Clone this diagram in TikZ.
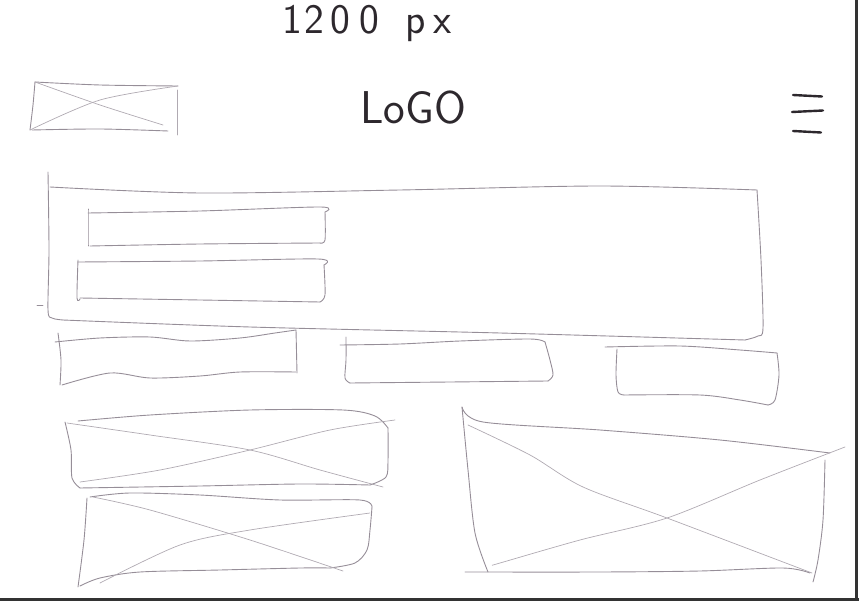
\documentclass[tikz,border=0pt]{standalone}
\usepackage{fontspec}
\definecolor{pencil}{RGB}{150,142,152}
\definecolor{inkc}{RGB}{45,40,45}
\begin{document}
\begin{tikzpicture}[x=1pt,y=-1pt,
  pen/.style={draw=pencil, line width=0.9pt, line cap=round, line join=round},
  faint/.style={draw=pencil!75, line width=0.7pt, line cap=round},
  ink/.style={draw=inkc, line width=2.4pt, line cap=round},
  hand/.style={text=inkc, inner sep=0pt}]
\useasboundingbox (0,0) rectangle (859,601);
% scan edges
\draw[draw=black!80, line width=2.5pt] (0,599.5) -- (859,599.5);
\draw[draw=black!80, line width=2.5pt] (856.5,0) -- (856.5,601);
% title
\node[hand, anchor=base west, font=\fontsize{42}{42}\sffamily] (title) at (282,34)
  {1\kern3pt 2\kern6pt 0\kern9pt 0\kern26pt p\kern8pt x};
% logo placeholder
\draw[pen] plot[smooth] coordinates {(35,82) (100,85) (178,86)};
\draw[pen] plot[smooth] coordinates {(35,82) (33,105) (30,130)};
\draw[pen] plot[smooth] coordinates {(32,130) (100,129) (168,131)};
\draw[faint] plot[smooth] coordinates {(35,82) (100,105) (163,125)};
\draw[faint] plot[smooth] coordinates {(30,130) (100,100) (178,86)};
\draw[faint] (177,90) -- (177,135);
% logo text
\node[hand, anchor=base west, font=\fontsize{46}{46}\sffamily] (logo) at (360,124) {LoGO};
% hamburger
\draw[ink] (793,95) -- (822,96.5);
\draw[ink] (792,112) -- (823,110.5);
\draw[ink] (793,131) -- (821,132.5);
% hero
\draw[pen] plot[smooth] coordinates {(48,172) (49,250) (48,310) (52,318) (63,320)};
\draw[pen] plot[smooth] coordinates {(50,187) (200,193) (400,190) (600,186) (757,190)};
\draw[pen] plot[smooth] coordinates {(757,190) (761,260) (763,328) (758,336) (745,340)};
\draw[pen] plot[smooth] coordinates {(63,320) (250,327) (500,333) (745,340)};
\draw[pen] (37,305) -- (43,305);
% inner box 1
\draw[pen] plot[smooth] coordinates {(88,213) (200,211) (320,207) (325,212)};
\draw[pen] plot[smooth] coordinates {(325,212) (325,240) (320,243)};
\draw[pen] plot[smooth] coordinates {(320,243) (200,244) (90,246)};
\draw[pen] plot[smooth] coordinates {(88,209) (88,246)};
% inner box 2
\draw[pen] plot[smooth] coordinates {(78,262) (200,261) (318,259) (324,265)};
\draw[pen] plot[smooth] coordinates {(324,265) (325,295) (320,302)};
\draw[pen] plot[smooth] coordinates {(320,302) (200,300) (80,298)};
\draw[pen] plot[smooth] coordinates {(78,260) (77,298) (80,299)};
% box A
\draw[pen] plot[smooth] coordinates {(58,333) (61,360) (60,385)};
\draw[pen] plot[smooth] coordinates {(55,342) (100,338) (150,337) (190,341) (240,338) (275,333) (296,330)};
\draw[pen] plot[smooth] coordinates {(296,330) (297,373)};
\draw[pen] plot[smooth] coordinates {(62,385) (110,373) (150,378) (200,376) (240,372) (296,372)};
% box B
\draw[pen] plot[smooth] coordinates {(346,337) (346,360) (345,378) (350,383)};
\draw[pen] plot[smooth] coordinates {(340,345) (400,344) (460,341) (530,339) (545,342)};
\draw[pen] plot[smooth] coordinates {(545,342) (550,360) (553,375) (548,381)};
\draw[pen] plot[smooth] coordinates {(350,383) (450,382) (548,381)};
% box C
\draw[pen] plot[smooth] coordinates {(605,347) (680,346) (740,350) (777,353)};
\draw[pen] plot[smooth] coordinates {(777,353) (779,375) (775,400) (768,405)};
\draw[pen] plot[smooth] coordinates {(624,395) (700,395) (740,400) (768,405)};
\draw[pen] plot[smooth] coordinates {(617,349) (616,375) (618,392) (624,395)};
% box D
\draw[pen] plot[smooth] coordinates {(65,422) (71,450) (72,478) (80,488)};
\draw[pen] plot[smooth] coordinates {(78,421) (150,415) (250,410) (343,410) (375,416) (388,428)};
\draw[pen] plot[smooth] coordinates {(388,428) (388,460) (386,477) (370,485)};
\draw[pen] plot[smooth] coordinates {(80,488) (200,486) (300,484) (370,485)};
\draw[faint] plot[smooth] coordinates {(67,423) (150,435) (250,450) (320,470) (383,487)};
\draw[faint] plot[smooth] coordinates {(80,482) (160,470) (250,450) (330,430) (395,420)};
% box E
\draw[pen] plot[smooth] coordinates {(90,497) (130,493) (200,495) (280,500) (360,500) (372,507)};
\draw[pen] plot[smooth] coordinates {(372,507) (370,530) (367,550) (355,563) (330,568)};
\draw[pen] plot[smooth] coordinates {(80,586) (100,578) (140,572) (220,570) (300,568) (330,568)};
\draw[pen] plot[smooth] coordinates {(87,498) (84,540) (78,587)};
\draw[faint] plot[smooth] coordinates {(93,497) (150,510) (250,540) (343,571)};
\draw[faint] plot[smooth] coordinates {(100,583) (180,545) (250,530) (370,513)};
% box F
\draw[pen] plot[smooth] coordinates {(462,407) (483,422) (600,430) (720,440) (830,453)};
\draw[pen] plot[smooth] coordinates {(462,407) (468,470) (475,533) (488,572)};
\draw[pen] plot[smooth] coordinates {(465,572) (600,572) (700,571) (783,568) (810,573)};
\draw[pen] plot[smooth] coordinates {(825,460) (823,520) (818,560) (813,582)};
\draw[faint] plot[smooth] coordinates {(468,425) (530,455) (583,487) (667,518) (812,573)};
\draw[faint] plot[smooth] coordinates {(493,565) (500,563) (580,540) (667,518) (760,480) (845,447)};
\end{tikzpicture}
\end{document}
